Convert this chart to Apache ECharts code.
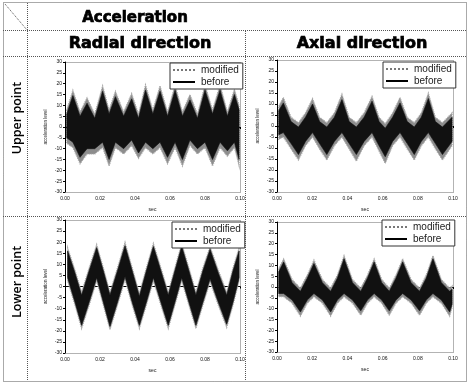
<!DOCTYPE html>
<html><head><meta charset="utf-8">
<script src="https://cdn.jsdelivr.net/npm/echarts@6/dist/echarts.min.js"></script>
<style>html,body{margin:0;padding:0;background:#fff}#c{width:470px;height:384px}</style>
</head><body><div id="c"></div>
<script>
// ---- table texts ----
const headerLabel = 'Acceleration';
const colLabels = ['Radial direction', 'Axial direction'];
const rowLabels = ['Upper point', 'Lower point'];
const legendNames = ['modified', 'before'];
const xName = 'sec';
const yName = 'acceleration level';
// ---- axis ticks ----
const xMin = 0, xMax = 0.1, xStep = 0.02;
const yMin = -30, yMax = 30, yStep = 5;

// ---- Upper point / Radial (envelopes of the signals) ----
const ulTime = [0.001, 0.0045, 0.0086, 0.0126, 0.0170, 0.0215, 0.0252, 0.0288, 0.0335, 0.0381, 0.0420, 0.0460, 0.0502, 0.0543, 0.0586, 0.0629, 0.0671, 0.0714, 0.0757, 0.0800, 0.0843, 0.0886, 0.0928, 0.0968, 0.0995];
const ulBeforeHi = [6, 14.5, 5, 11, 4, 16.5, 6, 14, 5, 13, 4, 17, 6, 16.5, 5, 17, 5, 12.5, 4, 17, 6, 17, 5, 15, 8];
const ulBeforeLo = [-5, -7, -14, -10, -10, -7, -15, -7, -10, -6, -12, -7, -10, -7, -14, -7, -15, -6, -10, -7, -15, -7, -11, -7, -15];
const ulModHi = [8, 17, 7, 13.5, 6, 19, 8, 16.5, 7, 15.5, 6, 19.5, 8, 19, 7, 19.5, 7, 15, 6, 19.5, 8, 19.5, 7, 17.5, 10];
const ulModLo = [-7.5, -9.5, -17, -12.5, -12.5, -9.5, -18, -9.5, -12.5, -8.5, -14.5, -9.5, -12.5, -9.5, -17, -9.5, -18, -8.5, -12.5, -9.5, -18, -9.5, -13.5, -9.5, -18];

// ---- Upper point / Axial ----
const urTime = [0.001, 0.0036, 0.0080, 0.0122, 0.0162, 0.0202, 0.0242, 0.0283, 0.0326, 0.0369, 0.0410, 0.0451, 0.0495, 0.0540, 0.0580, 0.0615, 0.0657, 0.0699, 0.0740, 0.0780, 0.0820, 0.0860, 0.0900, 0.0940, 0.0995];
const urBeforeHi = [7, 10.5, 2, -0.5, 4, 10, 2, -0.5, 4, 12, 2, -0.5, 4, 11.3, 2, -1, 4, 10.5, 2, -0.5, 4, 12.5, 2, -0.5, 4];
const urBeforeLo = [-4, -3, -8, -13, -7, -3, -8, -13, -7, -3, -8, -13, -7, -3, -9, -14, -7, -3, -8, -13, -7, -3, -8, -13, -7];
const urModHi = [9, 13, 4, 1.5, 6, 12.5, 4, 1.5, 6, 14.5, 4, 1.5, 6, 13.5, 4, 1, 6, 13, 4, 1.5, 6, 15, 4, 1.5, 6];
const urModLo = [-6, -5, -10.5, -15.5, -9, -5, -10.5, -15.5, -9, -5, -10.5, -16, -9, -5, -11.5, -17, -9, -5, -10.5, -15.5, -9, -5, -10.5, -15.5, -9];

// ---- Lower point / Radial ----
const llTime = [0.0015, 0.0057, 0.0095, 0.0138, 0.0181, 0.0219, 0.0257, 0.0300, 0.0343, 0.0384, 0.0425, 0.0465, 0.0505, 0.0548, 0.0590, 0.0628, 0.0667, 0.0708, 0.0748, 0.0788, 0.0829, 0.0876, 0.0924, 0.0960, 0.0995];
const llBeforeHi = [16, 6, -4, 7, 17.5, 7, -4, 7, 18.3, 7, -4.5, 7, 18, 7, -4, 7, 18, 7, -4, 7, 16.7, 6, -4, 7, 16];
const llBeforeLo = [4, -7, -17.5, -7, 4, -7, -18, -7, 4.5, -7, -17.5, -7, 4, -7, -17.5, -7, 4, -7, -17.5, -7, 3.5, -7, -17, -7, 4];
const llModHi = [17.5, 7.5, -2.5, 8.5, 19, 8.5, -2.5, 8.5, 20, 8.5, -3, 8.5, 19.5, 8.5, -2.5, 8.5, 19.5, 8.5, -2.5, 8.5, 18, 7.5, -2.5, 8.5, 17.5];
const llModLo = [2.5, -8.5, -19, -8.5, 2.5, -8.5, -19.5, -8.5, 3, -8.5, -19, -8.5, 2.5, -8.5, -19, -8.5, 2.5, -8.5, -19, -8.5, 2, -8.5, -18.5, -8.5, 2.5];

// ---- Lower point / Axial ----
const lrTime = [0.001, 0.0038, 0.0086, 0.0133, 0.0172, 0.0210, 0.0258, 0.0305, 0.0343, 0.0381, 0.0429, 0.0476, 0.0514, 0.0552, 0.0595, 0.0638, 0.0676, 0.0714, 0.0762, 0.0810, 0.0848, 0.0886, 0.0934, 0.0981, 0.0995];
const lrBeforeHi = [7, 11.5, 2, -2, 4, 10.8, 2, -2, 4, 13, 2, -2, 4, 11.5, 2, -2, 4, 11.5, 2, -2, 4, 13, 2, -2, -1];
const lrBeforeLo = [-3, -3, -6, -11.5, -6, -3, -6, -11.5, -6, -3, -6, -11, -6, -3, -6, -11, -6, -3, -6, -11, -6, -3, -6, -11.5, -8];
const lrModHi = [8.5, 13, 3.5, -0.5, 5.5, 12.5, 3.5, -0.5, 5.5, 14.5, 3.5, -0.5, 5.5, 13, 3.5, -0.5, 5.5, 13, 3.5, -0.5, 5.5, 14.5, 3.5, -0.5, 0.5];
const lrModLo = [-4.5, -4.5, -7.5, -13.5, -7.5, -4.5, -7.5, -13.5, -7.5, -4.5, -7.5, -13, -7.5, -4.5, -7.5, -13, -7.5, -4.5, -7.5, -13, -7.5, -4.5, -7.5, -13.5, -9.5];

const panels = [
  {t: ulTime, bHi: ulBeforeHi, bLo: ulBeforeLo, mHi: ulModHi, mLo: ulModLo},
  {t: urTime, bHi: urBeforeHi, bLo: urBeforeLo, mHi: urModHi, mLo: urModLo},
  {t: llTime, bHi: llBeforeHi, bLo: llBeforeLo, mHi: llModHi, mLo: llModLo},
  {t: lrTime, bHi: lrBeforeHi, bLo: lrBeforeLo, mHi: lrModHi, mLo: lrModLo}
];

// ---- layout ----
const grids = [
  {left: 65, top: 62, width: 175, height: 130},
  {left: 277, top: 60, width: 176, height: 132},
  {left: 65, top: 220, width: 175, height: 133},
  {left: 277, top: 222, width: 176, height: 130}
];
const legendPos = [
  {left: 170, top: 63}, {left: 383, top: 62}, {left: 172, top: 222}, {left: 382, top: 220}
];
const MOD_COLOR = '#8d8d8d', BEF_COLOR = '#111';

function bandSeries(i, name, t, hi, lo, color, dotted) {
  return {
    type: 'custom', name: name, xAxisIndex: i, yAxisIndex: i, silent: true,
    itemStyle: {color: color},
    encode: {x: 0, y: [1, 2]},
    data: t.map((x, k) => [x, hi[k], lo[k]]),
    renderItem: function (params, api) {
      if (params.dataIndexInside !== 0) return null;
      const n = params.dataInsideLength;
      const top = [], bot = [];
      for (let j = 0; j < n; j++) {
        top.push(api.coord([api.value(0, j), api.value(1, j)]));
        bot.push(api.coord([api.value(0, j), api.value(2, j)]));
      }
      return {
        type: 'polygon', shape: {points: top.concat(bot.reverse())},
        style: {fill: color, stroke: dotted ? '#aaa' : color, lineWidth: dotted ? 1.2 : 0.6, lineDash: dotted ? [1, 1] : null}
      };
    }
  };
}
const series = [];
panels.forEach((p, i) => {
  series.push(bandSeries(i, legendNames[0], p.t, p.mHi, p.mLo, MOD_COLOR, true));
  series.push(bandSeries(i, legendNames[1], p.t, p.bHi, p.bLo, BEF_COLOR, false));
});

const axisFont = {fontSize: 5, color: '#111', fontFamily: 'Liberation Sans'};
const xAxis = grids.map((g, i) => ({
  gridIndex: i, type: 'value', min: xMin, max: xMax, interval: xStep,
  name: xName, nameLocation: 'middle', nameGap: 15,
  nameTextStyle: {fontSize: 5, color: '#111'},
  axisLine: {lineStyle: {color: '#000', width: 1}},
  axisTick: {length: 2, lineStyle: {color: '#000'}},
  axisLabel: Object.assign({margin: 4, formatter: v => v.toFixed(2)}, axisFont),
  splitLine: {show: false}
}));
const yAxis = grids.map((g, i) => ({
  gridIndex: i, type: 'value', min: yMin, max: yMax, interval: yStep,
  name: yName, nameLocation: 'middle', nameGap: 17, nameRotate: 90,
  nameTextStyle: {fontSize: 4.5, color: '#111'},
  axisLine: {show: true, lineStyle: {color: '#000', width: 1}},
  axisTick: {show: true, length: 2, lineStyle: {color: '#000'}},
  axisLabel: Object.assign({margin: 3}, axisFont),
  splitLine: {show: false}
}));
const dottedIcon = 'path://M0,0h2v2h-2zM4,0h2v2h-2zM8,0h2v2h-2zM12,0h2v2h-2zM16,0h2v2h-2zM20,0h2v2h-2z';
const solidIcon = 'path://M0,0h22v2h-22z';
const legend = legendPos.map(p => ({
  left: p.left, top: p.top, orient: 'vertical',
  padding: [2, 4, 2, 3], itemGap: 2, itemWidth: 24, itemHeight: 2,
  borderColor: '#333', borderWidth: 1, backgroundColor: '#fff',
  textStyle: {fontSize: 10, color: '#222', fontFamily: 'Liberation Sans'},
  selectedMode: false,
  data: [
    {name: legendNames[0], icon: dottedIcon, itemStyle: {color: '#777'}},
    {name: legendNames[1], icon: solidIcon, itemStyle: {color: '#000'}}
  ]
}));

// ---- table frame + labels ----
const dash = {stroke: '#555', lineWidth: 1, lineDash: [1, 1]};
function ln(x1, y1, x2, y2) { return {type: 'line', silent: true, shape: {x1, y1, x2, y2}, style: dash}; }
function headText(x, y, text, size) {
  return {type: 'text', silent: true, x: x, y: y, style: {
    text: text, fontSize: size, fontWeight: 'bold', fontFamily: 'DejaVu Sans',
    fill: '#000', stroke: '#000', lineWidth: 0.7, align: 'center', verticalAlign: 'middle'}};
}
function rowText(x, y, text) {
  return {type: 'text', silent: true, x: x, y: y, rotation: Math.PI / 2, style: {
    text: text, fontSize: 12.5, fontWeight: 600, fontFamily: 'Open Sans',
    fill: '#000', align: 'center', verticalAlign: 'middle'}};
}
const graphic = [
  {type: 'rect', silent: true, shape: {x: 3.5, y: 2.5, width: 463, height: 379}, style: Object.assign({fill: 'none'}, dash)},
  ln(3, 30.5, 467, 30.5), ln(3, 56.5, 467, 56.5), ln(3, 216.5, 467, 216.5),
  ln(27.5, 3, 27.5, 381), ln(245.5, 31, 245.5, 381), ln(5, 4, 27, 30),
  headText(135, 18, headerLabel, 15),
  headText(140, 44, colLabels[0], 16),
  headText(362, 44, colLabels[1], 16),
  rowText(17, 118, rowLabels[0]),
  rowText(17, 282, rowLabels[1])
];
grids.forEach(g => graphic.push({type: 'rect', silent: true, z: 0,
  shape: {x: g.left + 0.5, y: g.top + 0.5, width: g.width, height: g.height},
  style: {fill: 'none', stroke: '#666', lineWidth: 1, lineDash: [1, 1]}}));

const chart = echarts.init(document.getElementById('c'), null, {renderer: 'canvas'});
chart.setOption({
  animation: false,
  backgroundColor: '#fff',
  grid: grids.map(g => Object.assign({containLabel: false}, g)),
  xAxis, yAxis, legend, series, graphic
});
</script></body></html>
